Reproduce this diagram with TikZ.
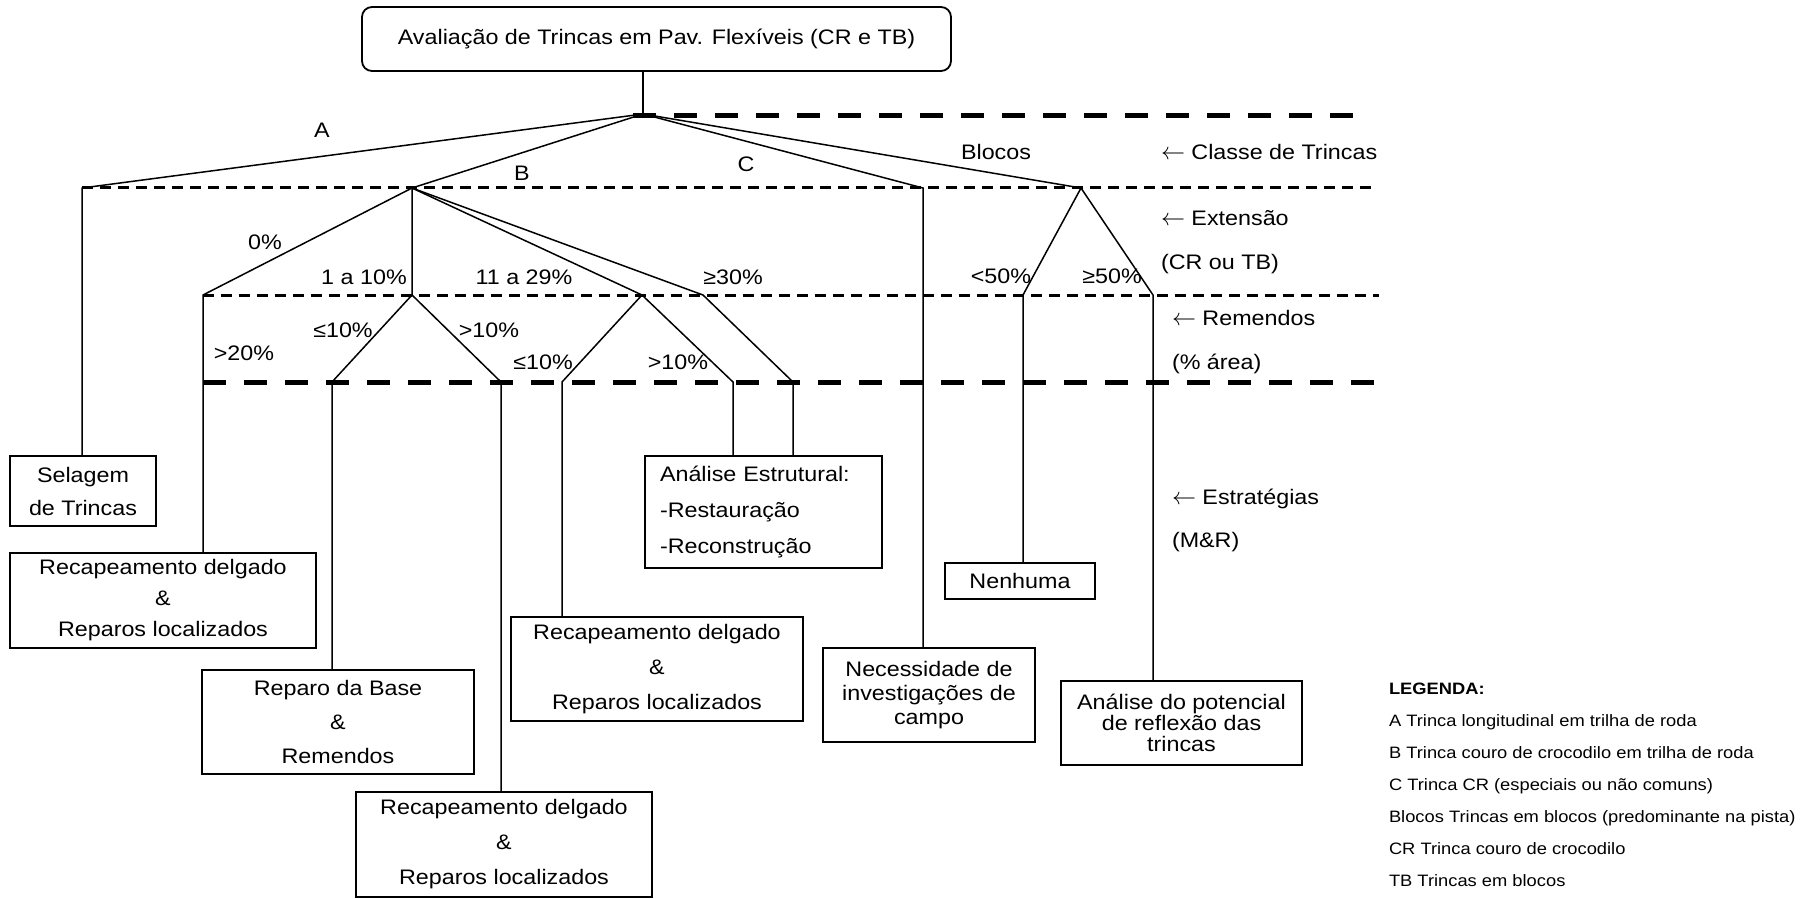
\documentclass[tikz,border=0pt]{standalone}
\usepackage{fontspec}
\setmainfont{Liberation Sans}[FakeStretch=1.11]
\newcommand{\larr}{\resizebox{24pt}{!}{$\leftarrow$}}
\begin{document}
\begin{tikzpicture}[x=1pt,y=-1pt,
  every node/.style={inner sep=0pt, outer sep=0pt},
  lbl/.style={font=\fontsize{21}{25}\selectfont, anchor=base},
  side/.style={font=\fontsize{21}{25}\selectfont, anchor=base west},
  leg/.style={font=\fontsize{16.5}{20}\selectfont, anchor=base west},
  mbox/.style={draw, line width=1.8pt, align=center, font=\fontsize{21}{33}\selectfont},
  conn/.style={line width=1.5pt},
  lvldash/.style={line width=3pt, dash pattern=on 11pt off 7pt},
  thickdash/.style={line width=5pt, dash pattern=on 23pt off 18pt},
]
\useasboundingbox (0,0) rectangle (1809,898);

% title
\node[draw, rounded corners=10pt, line width=1.8pt, minimum width=589pt, minimum height=64pt,
      font=\fontsize{21}{25}\selectfont] (title) at (656.5,39) {Avaliação de Trincas em Pav. Flexíveis (CR e TB)};

% boxes
\node[mbox, minimum width=146pt, minimum height=70pt] (sel) at (83,491) {Selagem\\de Trincas};
\node[mbox, minimum width=306pt, minimum height=95pt, font=\fontsize{21}{31}\selectfont] (rc1) at (163,600.5) {Recapeamento delgado\\\&\\Reparos localizados};
\node[mbox, minimum width=272pt, minimum height=104pt, font=\fontsize{21}{34}\selectfont] (rep) at (338,722) {Reparo da Base\\\&\\Remendos};
\node[mbox, minimum width=296pt, minimum height=105pt, font=\fontsize{21}{35}\selectfont] (rc3) at (504,844.5) {Recapeamento delgado\\\&\\Reparos localizados};
\node[mbox, minimum width=292pt, minimum height=104pt, font=\fontsize{21}{35}\selectfont] (rc2) at (657,669) {Recapeamento delgado\\\&\\Reparos localizados};
\node[mbox, minimum width=237pt, minimum height=112pt, text width=207pt, align=left, font=\fontsize{21}{36}\selectfont] (ae) at (763.5,512) {Análise Estrutural:\\-Restauração\\-Reconstrução};
\node[mbox, minimum width=212pt, minimum height=94pt, font=\fontsize{21}{24}\selectfont] (nec) at (929,695) {Necessidade de\\investigações de\\campo};
\node[mbox, minimum width=150pt, minimum height=36pt] (nen) at (1020,581) {Nenhuma};
\node[mbox, minimum width=241pt, minimum height=84pt, font=\fontsize{21}{21}\selectfont] (ap) at (1181.5,723) {Análise do potencial\\de reflexão das\\trincas};

% tree points
\coordinate (root) at (643,114);
\coordinate (a) at (82,188);
\coordinate (b) at (412,188);
\coordinate (c) at (923,188);
\coordinate (bl) at (1081,188);
\coordinate (b0) at (203,295);
\coordinate (b1) at (412,295);
\coordinate (b2) at (642,295);
\coordinate (b3) at (703,295);
\coordinate (bl1) at (1023,295);
\coordinate (bl2) at (1153,295);
\coordinate (b11) at (332,382);
\coordinate (b12) at (501,382);
\coordinate (b21) at (562,382);
\coordinate (b22) at (733,382);
\coordinate (b31) at (793,382);

% level lines
\coordinate (L0s) at (633,115); \coordinate (L0e) at (1357,115);
\coordinate (L1s) at (82,187);  \coordinate (L1e) at (1372,187);
\coordinate (L2s) at (203,295); \coordinate (L2e) at (1379,295);
\coordinate (L3s) at (203,382); \coordinate (L3e) at (1379,382);
\draw[thickdash] (L0s) -- (L0e);
\draw[lvldash] (L1s) -- (L1e);
\draw[lvldash] (L2s) -- (L2e);
\draw[thickdash] (L3s) -- (L3e);

% connectors
\draw[conn] (title.south -| root) -- (root);
\draw[conn] (root) -- (a) -- (a |- sel.north);
\draw[conn] (root) -- (b) -- (b0) -- (b0 |- rc1.north);
\draw[conn] (b) -- (b1) -- (b11) -- (b11 |- rep.north);
\draw[conn] (b1) -- (b12) -- (b12 |- rc3.north);
\draw[conn] (b) -- (b2) -- (b21) -- (b21 |- rc2.north);
\draw[conn] (b2) -- (b22) -- (b22 |- ae.north);
\draw[conn] (b) -- (b3) -- (b31) -- (b31 |- ae.north);
\draw[conn] (root) -- (c) -- (c |- nec.north);
\draw[conn] (root) -- (bl) -- (bl1) -- (bl1 |- nen.north);
\draw[conn] (bl) -- (bl2) -- (bl2 |- ap.north);

% branch labels
\node[lbl] (lA) at (322,137) {A};
\node[lbl] (lB) at (522,180) {B};
\node[lbl] (lC) at (746,171) {C};
\node[lbl] (lBl) at (996,159) {Blocos};
\node[lbl] (l0) at (265,249) {0\%};
\node[lbl] (l1) at (364,284) {1 a 10\%};
\node[lbl] (l2) at (524,284) {11 a 29\%};
\node[lbl] (l3) at (733,284) {≥30\%};
\node[lbl] (l4) at (1001,283) {<50\%};
\node[lbl] (l5) at (1112,283) {≥50\%};
\node[lbl] (l6) at (343,337) {≤10\%};
\node[lbl] (l7) at (489,337) {>10\%};
\node[lbl] (l8) at (244,360) {>20\%};
\node[lbl] (l9) at (543,369) {≤10\%};
\node[lbl] (l10) at (678,369) {>10\%};

% side labels
\node[side] (s1) at (1161,159) {\larr\ Classe de Trincas};
\node[side] (s2) at (1161,225) {\larr\ Extensão};
\node[side] (s3) at (1161,269) {(CR ou TB)};
\node[side] (s4) at (1172,325) {\larr\ Remendos};
\node[side] (s5) at (1172,369) {(\% área)};
\node[side] (s6) at (1172,504) {\larr\ Estratégias};
\node[side] (s7) at (1172,547) {(M\&R)};

% legend
\node[leg, font=\fontsize{16.5}{20}\selectfont\bfseries] (lg0) at (1389,694) {LEGENDA:};
\node[leg] (lg1) at (1389,726) {A Trinca longitudinal em trilha de roda};
\node[leg] (lg2) at (1389,758) {B Trinca couro de crocodilo em trilha de roda};
\node[leg] (lg3) at (1389,790) {C Trinca CR (especiais ou não comuns)};
\node[leg] (lg4) at (1389,822) {Blocos Trincas em blocos (predominante na pista)};
\node[leg] (lg5) at (1389,854) {CR Trinca couro de crocodilo};
\node[leg] (lg6) at (1389,886) {TB Trincas em blocos};
\end{tikzpicture}
\end{document}
